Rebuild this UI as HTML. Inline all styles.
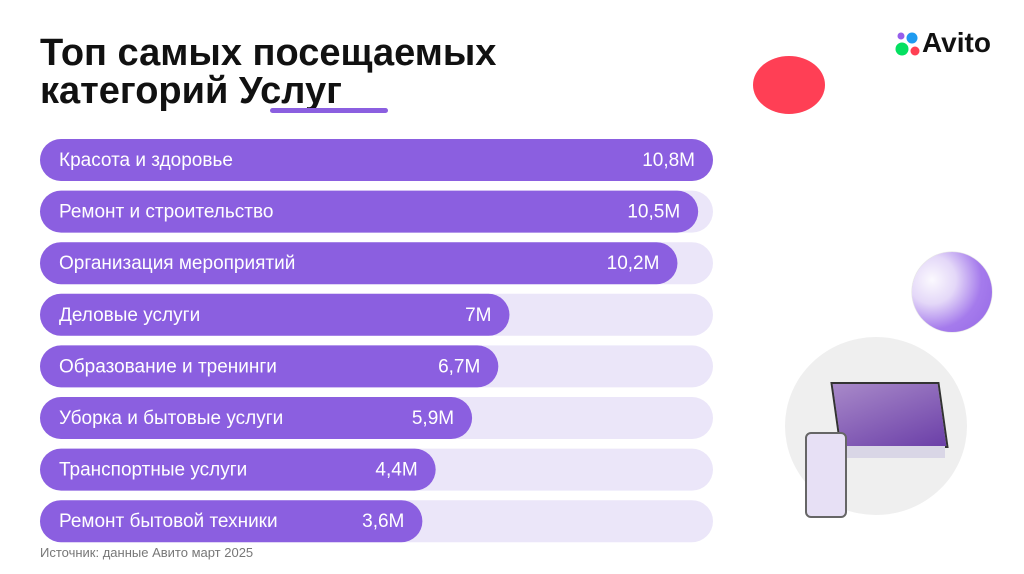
<!DOCTYPE html>
<html><head><meta charset="utf-8"><style>
body{margin:0;width:1024px;height:574px;background:#fff;overflow:hidden;position:relative;font-family:"Liberation Sans","DejaVu Sans",sans-serif}
.title{position:absolute;left:40px;top:34px;font-size:38px;font-weight:bold;line-height:38px;color:#111}
.ul{position:absolute;left:270px;top:108px;width:118px;height:5px;background:#8b5fe0;border-radius:3px}
.src{position:absolute;left:40px;top:545px;font-size:13px;color:#777}
</style></head><body>
<div class="title">Топ самых посещаемых<br>категорий Услуг</div>
<div class="ul"></div>
<div style="position:absolute;left:895px;top:29px;height:30px">
<svg width="30" height="30" style="position:absolute;left:0;top:0"><circle cx="17" cy="9" r="5.5" fill="#1e9bf0"/><circle cx="6" cy="7" r="3.5" fill="#965eeb"/><circle cx="7" cy="20" r="6.5" fill="#04e061"/><circle cx="20" cy="22" r="4.5" fill="#ff4053"/></svg>
<span style="position:absolute;left:27px;top:-2px;font-size:28px;font-weight:bold;color:#111">Avito</span></div>
<div style="position:absolute;left:753px;top:56px;width:72px;height:58px;border-radius:50%;background:#ff3f55"></div>
<div style="position:absolute;left:912px;top:252px;width:80px;height:80px;border-radius:50%;background:radial-gradient(circle at 25% 35%,#fbf9fe 0%,#e4d8f8 30%,#a57bec 62%,#9467e6 100%);box-shadow:0 0 1px #999"></div>
<div style="position:absolute;left:785px;top:337px;width:182px;height:178px;border-radius:50%;background:#efefef">
<div style="position:absolute;left:50px;top:45px;width:105px;height:62px;background:linear-gradient(160deg,#a889c9,#6b3fa8);transform:skewX(8deg);border:2px solid #333"></div>
<div style="position:absolute;left:40px;top:109px;width:120px;height:12px;background:#d9d6e6"></div>
<div style="position:absolute;left:20px;top:95px;width:38px;height:82px;background:#e7e0f5;border:2px solid #666;border-radius:6px"></div>
</div>
<svg id="chart" width="1024" height="574" style="position:absolute;left:0;top:0"></svg>
<div class="src">Источник: данные Авито март 2025</div>
<script>
const categories=["Красота и здоровье","Ремонт и строительство","Организация мероприятий","Деловые услуги","Образование и тренинги","Уборка и бытовые услуги","Транспортные услуги","Ремонт бытовой техники"];
const values=[10.8,10.5,10.2,7,6.7,5.9,4.4,3.6];
const valueLabels=["10,8M","10,5M","10,2M","7M","6,7M","5,9M","4,4M","3,6M"];
const NS="http://www.w3.org/2000/svg";
const svg=document.getElementById('chart');
const x0=40,trackW=673,barH=42,y0=139,step=51.6;
function xw(v){return Math.min(trackW,362+0.829*Math.pow(v,2.5));}
function yr(i){return y0+i*step;}
function mk(t,a){const e=document.createElementNS(NS,t);for(const k in a)e.setAttribute(k,a[k]);svg.appendChild(e);return e;}
categories.forEach((c,i)=>{
 const y=yr(i);
 const tr=mk('rect',{x:x0,y:y,width:trackW,height:barH,rx:21,fill:'#ebe6f9'});
 
 
 const w=xw(values[i]);
 const b=mk('rect',{x:x0,y:y,width:w,height:barH,rx:21,fill:'#8b5fe0'});
 
 
 const l=mk('text',{x:59,y:y+27,fill:'#fff','font-size':19,'font-family':'Liberation Sans, sans-serif'});
 l.textContent=c;
 
 
 const v=mk('text',{x:x0+w-18,y:y+27,fill:'#fff','font-size':19,'text-anchor':'end','font-family':'Liberation Sans, sans-serif'});
 v.textContent=valueLabels[i];
 
 
});
</script>
</body></html>
